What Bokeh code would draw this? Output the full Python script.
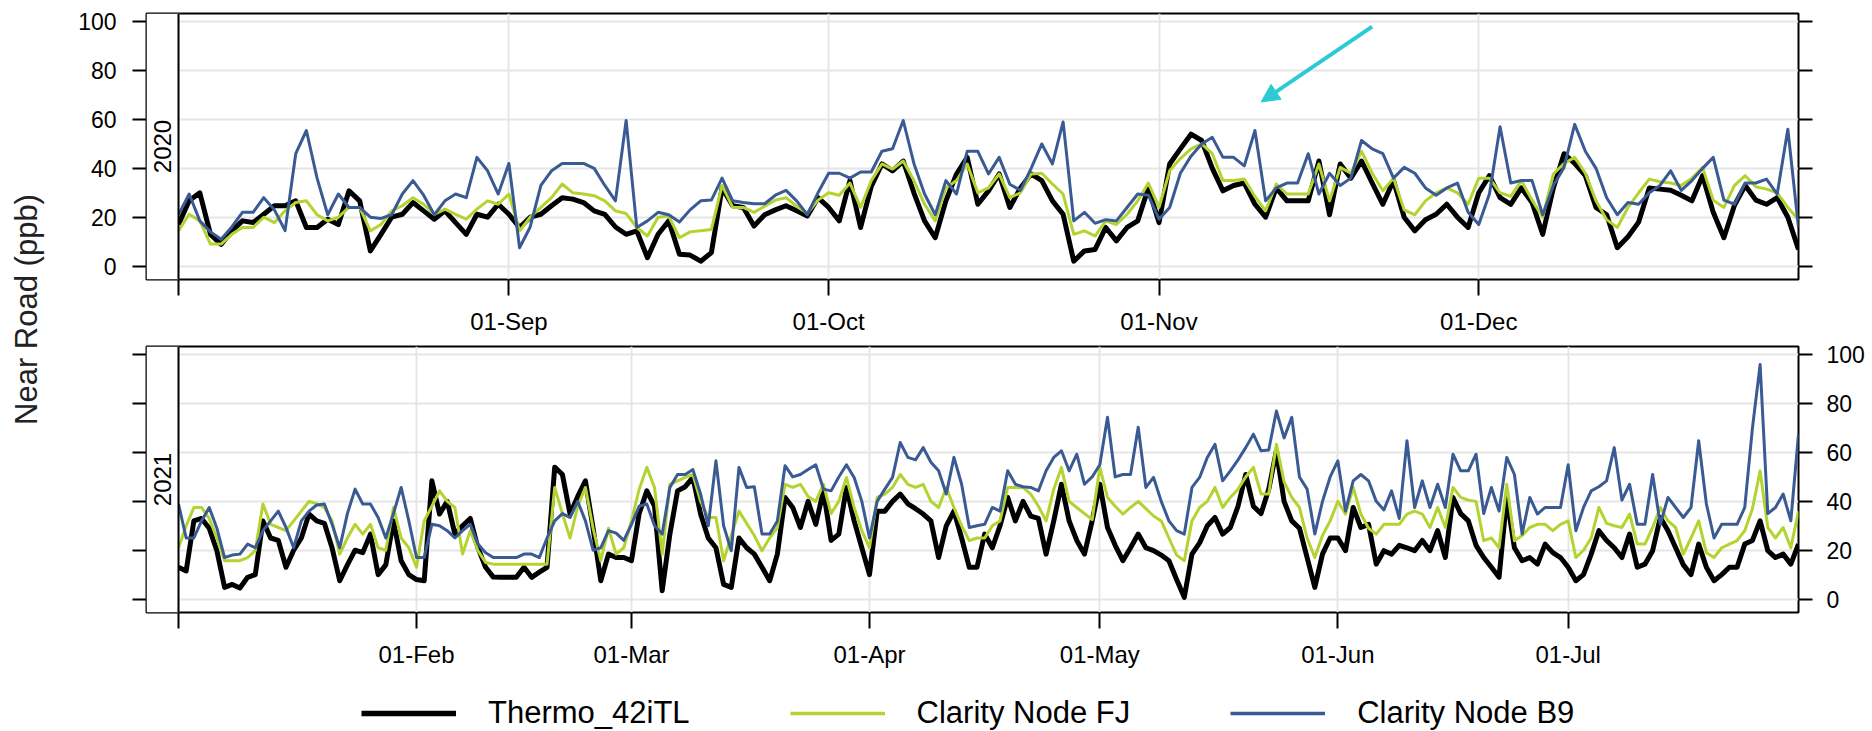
import numpy as np
from bokeh.plotting import figure
from bokeh.layouts import row, column
from bokeh.models import (FixedTicker, LinearAxis, Range1d, Span, BoxAnnotation, Label,
                          Legend, LegendItem, Arrow, NormalHead, ColumnDataSource,
                          DatetimeTickFormatter)
from bokeh.embed import file_html
from bokeh.resources import INLINE

# ---------------- data ----------------
series_names = ["Thermo_42iTL", "Clarity Node FJ", "Clarity Node B9"]
year_labels = ["2020", "2021"]
start_2020 = "2020-08-01"
start_2021 = "2021-01-01"
tick_dates_2020 = ["2020-08-01", "2020-09-01", "2020-10-01", "2020-11-01", "2020-12-01"]
tick_labels_2020 = ["", "01-Sep", "01-Oct", "01-Nov", "01-Dec"]
tick_dates_2021 = ["2021-01-01", "2021-02-01", "2021-03-01", "2021-04-01",
                   "2021-05-01", "2021-06-01", "2021-07-01"]
tick_labels_2021 = ["", "01-Feb", "01-Mar", "01-Apr", "01-May", "01-Jun", "01-Jul"]
y_ticks = [0, 20, 40, 60, 80, 100]
y_title = "Near Road (ppb)"

# daily values, 2020-08-01 .. 2020-12-31
thermo_2020 = [
    17, 26.7, 30, 13, 8.9, 14.4, 18.5, 17.8, 21.2, 24.7,
    24.7, 26.7, 15.8, 15.8, 19.2, 17, 30.8, 26.7, 6.2, 13,
    20, 21.2, 26, 22.6, 19.2, 22.6, 17.8, 13, 21.2, 20,
    25.3, 21.2, 15.8, 20, 21.2, 24.7, 28, 27.4, 26, 22.6,
    21.2, 16, 13, 14.4, 3.4, 13, 18.5, 4.8, 4.5, 2,
    5.5, 32, 24.7, 24, 16.4, 21, 23, 24.7, 22.6, 20.5,
    28, 24, 18.5, 35, 15.8, 32.6, 41.8, 39, 43, 30,
    18.5, 11.6, 26.7, 37.7, 44.5, 25.3, 30.8, 37.7, 24, 32,
    37.7, 35, 26.7, 21.2, 2, 6.2, 6.8, 15.8, 10.3, 15.8,
    18.5, 32, 17.8, 41.8, 48, 54, 51.4, 40, 30.8, 33,
    34, 25.3, 20, 32, 26.7, 26.7, 26.7, 43, 21, 41.8,
    36, 43, 34, 25.3, 35, 20, 14.4, 19, 21.2, 25.3,
    20, 15.8, 30, 37, 28, 25.3, 32, 26, 13, 32,
    46, 42, 37, 24, 21, 7.5, 12, 18, 32, 31.5,
    31, 29, 26.7, 37, 22, 11.6, 25, 33, 27, 25.3,
    28, 20, 6.8]
fj_2020 = [
    14.4, 21.2, 18.5, 9, 9, 13, 15.8, 15.8, 20, 17.8,
    22.6, 26, 26.7, 21, 18.5, 20, 24, 24, 14.4, 17,
    22.6, 24.7, 28, 25.3, 21.2, 23.3, 21.2, 19.2, 23.3, 26.7,
    25.3, 29.5, 14.4, 20, 24, 28, 33.6, 30, 29.5, 28.8,
    26.7, 22.6, 21.5, 15.8, 12.3, 20, 20.5, 11.6, 14, 14.5,
    15, 33, 24, 24, 22, 24.5, 27, 28, 24.5, 21.5,
    27, 30, 29, 34, 24, 35, 41.8, 39.7, 43, 35,
    25.3, 18.5, 32, 35, 41.8, 30, 32, 37.7, 28, 30,
    37.7, 38, 33.6, 29.5, 13, 14.4, 12.3, 18.5, 17, 21.2,
    26.7, 34, 24, 39, 44, 48, 50, 46, 35, 35,
    35.6, 28.5, 22.6, 33.6, 29.5, 29.5, 29.5, 41.8, 26.7, 40.4,
    38, 47, 38, 30.8, 36, 23, 21, 26.7, 30, 32,
    30, 25.3, 36, 36, 30, 28.5, 35, 27, 20, 37.7,
    42, 44.5, 38, 26.7, 19, 15.8, 24, 30, 35.6, 34.5,
    34, 33, 36, 40.4, 27, 24, 33, 37, 32.5, 31.5,
    30, 24, 19]
b9_2020 = [
    21, 29.5, 18.5, 14, 11, 16, 22, 22, 28, 23,
    14.5, 46, 55.5, 36, 21, 29.5, 24, 24, 20, 19.5,
    21, 29.5, 35, 29, 21, 26.7, 29.5, 28, 44.5, 39,
    29.5, 42, 7.5, 16, 33, 39, 42, 42, 42, 40,
    33, 26.7, 59.6, 15.8, 18.5, 22, 21, 18, 23, 26.7,
    27, 36, 26.7, 26, 25.5, 25.5, 29, 31, 26.7, 21,
    30, 38, 38, 36, 38.5, 38.5, 47, 48, 59.6, 42,
    29.5, 21, 35, 29.5, 47, 47, 37.7, 44.5, 33.5, 31,
    40, 50, 41.8, 59, 18.5, 22, 17.5, 19, 18.5, 24,
    29.5, 29, 19.2, 24, 38, 45, 50, 52.7, 44.5, 44.5,
    41, 55.5, 26.7, 32, 34, 34, 46, 29.5, 38, 33,
    36, 51.4, 48, 46, 36, 40.4, 38, 32, 29, 32,
    34, 22, 17, 29.5, 57, 34, 35, 35, 21, 33,
    40.4, 58, 47, 40, 28, 21, 26, 25.3, 30, 33,
    39, 31, 35, 40, 44.5, 27, 25.3, 34, 34, 35.6,
    29.5, 56, 15.8]

# daily values, 2021-01-01 .. 2021-07-31
thermo_2021 = [
    13, 11.5, 32, 33, 29, 19.8, 4.8, 6, 4.5, 8.9,
    10, 32, 25, 24, 13, 20, 25, 34.8, 32, 31,
    21, 7.5, 14, 20, 19, 26.6, 10, 14, 32, 15.7,
    10, 8, 7.5, 48.4, 34.8, 40, 26.6, 30, 33, 21,
    13, 9, 8.9, 8.9, 8.9, 13, 8.9, 11, 13, 54,
    51, 34.8, 42, 48.4, 29, 7.5, 18.4, 17, 17, 15.7,
    35, 44.3, 38, 3.4, 26.6, 44.3, 46, 49.8, 34.8, 25,
    21, 6, 4.8, 25, 21, 18.4, 13, 7.5, 18.4, 41.6,
    37.5, 29.3, 40, 30.6, 44.3, 24, 26.6, 45.7, 32, 21,
    10, 36, 36, 40, 43, 39, 37, 34.8, 32, 17,
    30, 36, 25, 13, 13, 26.6, 21, 30, 41.6, 32,
    40, 34, 33, 18.4, 32, 47, 32, 24, 18.4, 32,
    47, 29.3, 22, 15.7, 21, 26.6, 21, 19.8, 18, 15.7,
    8, 0.7, 18.4, 23, 30, 33.4, 26.6, 29.3, 38, 51,
    38, 35, 45, 60.7, 40, 32, 29, 17, 4.8, 18.4,
    25, 25, 19.8, 37.5, 29.3, 30.6, 14.3, 19.8, 18.4, 22,
    21, 19.8, 24, 19.8, 28, 17, 41.6, 35, 32, 22,
    17, 13, 8.9, 41.6, 21, 15.7, 17, 14.3, 22.5, 19,
    17, 13, 7.5, 10, 18.4, 28, 24, 21, 17, 26.6,
    13, 14.3, 19.8, 33.4, 28, 21, 14, 10, 22.5, 13,
    7.5, 10, 13, 13, 22.5, 24, 32, 19.8, 17, 18.4,
    14.3, 22.5]
fj_2021 = [
    21, 30, 37.5, 37.5, 33, 25, 15.7, 15.7, 15.7, 17,
    19.8, 38.9, 30.6, 29.3, 28, 32, 36, 40, 39, 37.5,
    32, 18.4, 25, 30.6, 26.6, 30.6, 21, 20, 37.5, 25,
    21, 13, 32, 38, 44.3, 40, 37.5, 18.4, 28, 19.8,
    15, 14.3, 14.3, 14.3, 14.3, 14.3, 14.3, 14.3, 14.3, 45.7,
    35, 25, 38, 45.7, 29, 15.7, 29, 18.4, 21, 32,
    45, 53.9, 45.7, 18.4, 47, 48.4, 49.8, 51, 40, 33.4,
    33.4, 15.7, 26, 36, 31, 26, 19.8, 25, 29.3, 47,
    45.7, 47, 42, 40, 47, 35, 40, 49.8, 37.5, 28,
    21, 41.6, 43, 45.7, 51, 47, 45.7, 47, 40, 37.5,
    45.7, 37.5, 30, 23.9, 25, 25, 30, 32, 45.7, 45.7,
    45.7, 43, 38, 32, 45, 53.9, 40, 37.5, 35, 32.5,
    53.9, 41.6, 38, 34.8, 37.5, 40, 37, 34, 32, 25,
    18, 15.7, 32, 37.5, 40, 45.7, 37.5, 41.6, 45, 50,
    53.9, 43, 43, 63.4, 48, 41.6, 37.5, 25, 17, 26,
    32, 40, 34.8, 45.7, 34.8, 29, 26.6, 30.6, 30.6, 30.6,
    34.8, 36, 34.8, 29.3, 37.5, 29.3, 45.7, 41.6, 40.5, 40,
    23.9, 25, 21, 47, 23.9, 26, 29.3, 30.6, 30.6, 28,
    30.6, 32, 17, 20, 25, 37.5, 31, 30, 29.3, 34.8,
    22.5, 22.5, 29.3, 37.5, 32, 29.3, 18.4, 25, 32, 19,
    17, 21, 22.5, 23.9, 28, 37, 52.5, 29.3, 25, 29.3,
    21, 36]
b9_2021 = [
    38.9, 25, 25, 32, 37.5, 29, 17, 18, 18.4, 22.5,
    21, 28, 32, 36, 29.3, 21, 32, 36, 38.5, 38.9,
    30.6, 21, 35, 45, 38.9, 38.9, 33.4, 25, 35, 45.7,
    32, 17, 17, 30.6, 30, 28, 25, 28, 30.6, 22.5,
    19, 17, 17, 17, 17, 18.4, 18.4, 17, 25, 32,
    35, 33.4, 40, 32, 20, 21, 28, 27, 24, 30.6,
    38, 38.9, 30, 26.6, 45.7, 51, 51, 53, 43, 30,
    56.6, 30, 19.8, 53.9, 45.7, 46, 26.6, 26.6, 32, 54.6,
    50, 51, 53, 55, 45, 44.3, 50, 55, 49.8, 40,
    25, 40, 45, 49.8, 64.1, 58, 57, 62, 56, 52.5,
    43, 58, 47, 29.3, 30, 30.6, 37.5, 36, 52.5, 47,
    46, 45.7, 44.3, 52.5, 58, 60.7, 52.5, 59.3, 47, 50,
    55, 74.4, 50, 51, 51, 70.3, 45.7, 49.8, 40, 32,
    28, 26.6, 45.7, 49.8, 58, 63.4, 48.4, 52.5, 57, 62,
    67.5, 60.7, 61, 77, 66, 74.4, 50, 45, 26.6, 40,
    50, 56.6, 36, 48.4, 51, 48.4, 40, 36.5, 44.3, 33,
    64.8, 37.5, 48.4, 37.5, 47, 37.5, 59.3, 52.5, 52.5, 59.3,
    35, 45.7, 36, 58, 51, 26.6, 41.6, 34.8, 37.5, 37.5,
    37.5, 55, 28, 37.5, 44.3, 46, 48.4, 62, 40.5, 47,
    30.6, 30.6, 51, 30.6, 41.6, 37.5, 33.4, 37.5, 64.8, 39,
    25, 30.6, 30.6, 30.6, 37.5, 70, 96, 35, 37.5, 43,
    32, 67.5]

# annotation arrow (top panel)
arrow_tail = ("2020-11-21T00", 98.0)
arrow_head = ("2020-11-10T14", 67.2)

assert len(thermo_2020) == len(fj_2020) == len(b9_2020) == 153
assert len(thermo_2021) == len(fj_2021) == len(b9_2021) == 212

# ---------------- styling ----------------
FONT = "Liberation Sans"
COLORS = ["#000000", "#B3D430", "#3A5A94"]
WIDTHS = [5, 3, 3]
CYAN = "#2ECAD4"
GRID = "#E6E6E6"
Y_MIN, Y_MAX = -5.5, 103.4
FRAME_W, STRIP_W = 1652, 32
BORDER_L, BORDER_R = 94, 72
FIG_W = BORDER_L + FRAME_W + BORDER_R
TITLE_W = 52
TOP_H, BOT_H, LEG_H = 341, 342, 48


def to_ms(d):
    return float(np.datetime64(d, "ms").astype(np.int64))


def make_panel(year, start, series, tick_dates, tick_labels, labels_right, height,
               border_top, border_bottom):
    n = len(series[0])
    days = np.datetime64(start, "D") + np.arange(n)
    xs = days.astype("datetime64[ms]").astype(np.int64).astype(float)
    x_first, x_last = xs[0], xs[-1]
    per_px = (x_last - x_first) / (FRAME_W - STRIP_W)
    x_left = x_first - STRIP_W * per_px

    p = figure(width=FIG_W, height=height, x_range=Range1d(x_left, x_last),
               y_range=Range1d(Y_MIN, Y_MAX), x_axis_type="datetime",
               output_backend="svg", toolbar_location=None,
               min_border_left=BORDER_L, min_border_right=BORDER_R,
               min_border_top=border_top, min_border_bottom=border_bottom)
    p.outline_line_color = "black"
    p.outline_line_width = 2
    p.background_fill_color = "white"
    p.border_fill_color = "white"

    tick_ms = [to_ms(d) for d in tick_dates]
    xt = FixedTicker(ticks=tick_ms, minor_ticks=[])
    xax = p.xaxis[0]
    xax.ticker = xt
    xax.formatter = DatetimeTickFormatter(days="%d-%b", months="%d-%b", years="%d-%b")
    xax.major_label_overrides = {t: l for t, l in zip(tick_ms, tick_labels)}
    xax.axis_line_color = None
    xax.major_tick_out = 16
    xax.major_tick_in = 0
    xax.minor_tick_out = 0
    xax.minor_tick_in = 0
    xax.major_tick_line_width = 2
    xax.major_tick_line_color = "black"
    xax.major_label_standoff = 12
    xax.major_label_text_font = FONT
    xax.major_label_text_font_size = "24px"
    xax.major_label_text_color = "black"

    yt = FixedTicker(ticks=y_ticks, minor_ticks=[])
    right = LinearAxis(ticker=yt)
    p.add_layout(right, "right")
    left = p.yaxis[0]
    left.ticker = yt
    for ax, is_right in ((left, False), (right, True)):
        ax.axis_line_color = None
        ax.major_tick_out = 14
        ax.major_tick_in = 0
        ax.minor_tick_out = 0
        ax.minor_tick_in = 0
        ax.major_tick_line_width = 2
        ax.major_tick_line_color = "black"
        ax.major_label_text_font = FONT
        ax.major_label_text_font_size = "23px"
        ax.major_label_text_color = "black"
        ax.major_label_standoff = 14 if is_right else 16
        if is_right != labels_right:
            ax.major_label_overrides = {v: "" for v in y_ticks}

    p.xgrid.ticker = xt
    p.ygrid.ticker = yt
    p.xgrid.grid_line_color = GRID
    p.ygrid.grid_line_color = GRID
    p.xgrid.grid_line_width = 2
    p.ygrid.grid_line_width = 2

    src = ColumnDataSource(dict(x=xs, s0=series[0], s1=series[1], s2=series[2]))
    for i, key in enumerate(["s0", "s1", "s2"]):
        p.line("x", key, source=src, line_color=COLORS[i], line_width=WIDTHS[i],
               line_join="round")

    # left strip holding the year
    p.add_layout(BoxAnnotation(right=x_first, fill_color="white", fill_alpha=1.0,
                               line_alpha=0))
    p.add_layout(Span(location=x_first, dimension="height", line_color="black",
                      line_width=2))
    p.add_layout(Label(x=(x_left + x_first) / 2, y=(Y_MIN + Y_MAX) / 2, text=year,
                       angle=np.pi / 2, text_align="center", text_baseline="middle",
                       text_font=FONT, text_font_size="24px", text_color="black"))
    return p


top = make_panel(year_labels[0], start_2020, [thermo_2020, fj_2020, b9_2020],
                 tick_dates_2020, tick_labels_2020, False, TOP_H, 13, 62)
bot = make_panel(year_labels[1], start_2021, [thermo_2021, fj_2021, b9_2021],
                 tick_dates_2021, tick_labels_2021, True, BOT_H, 5, 71)

top.add_layout(Arrow(end=NormalHead(size=18, fill_color=CYAN, line_color=CYAN),
                     x_start=to_ms(arrow_tail[0]), y_start=arrow_tail[1],
                     x_end=to_ms(arrow_head[0]), y_end=arrow_head[1],
                     line_color=CYAN, line_width=4))

# y-axis title column
TOTAL_H = TOP_H + BOT_H + LEG_H
yt_fig = figure(width=TITLE_W, height=TOTAL_H, x_range=Range1d(0, TITLE_W),
                y_range=Range1d(0, TOTAL_H), output_backend="svg",
                toolbar_location=None, min_border=0)
yt_fig.axis.visible = False
yt_fig.grid.visible = False
yt_fig.outline_line_color = None
yt_fig.add_layout(Label(x=26, y=TOTAL_H - 309, text=y_title, angle=np.pi / 2,
                        text_align="center", text_baseline="middle", text_font=FONT,
                        text_font_size="31px", text_color="#222222"))

# legend row
leg_fig = figure(width=FIG_W, height=LEG_H, x_range=Range1d(0, 1), y_range=Range1d(0, 1),
                 output_backend="svg", toolbar_location=None, min_border=0,
                 min_border_left=BORDER_L, min_border_right=BORDER_R)
leg_fig.axis.visible = False
leg_fig.grid.visible = False
leg_fig.outline_line_color = None
items = []
for i, name in enumerate(series_names):
    r = leg_fig.line(x=[np.nan], y=[np.nan], line_color=COLORS[i],
                     line_width=WIDTHS[i] + 0.5)
    items.append(LegendItem(label=name, renderers=[r]))
legend = Legend(items=items, orientation="horizontal", location=(215, 0),
                glyph_width=95, glyph_height=24, label_standoff=32, spacing=100,
                label_text_font=FONT, label_text_font_size="31px", label_text_color="black",
                padding=0, margin=0, border_line_color=None, background_fill_alpha=0)
leg_fig.add_layout(legend, "center")

layout = row(yt_fig, column(top, bot, leg_fig))
open("out.html", "w").write(file_html(layout, INLINE))
